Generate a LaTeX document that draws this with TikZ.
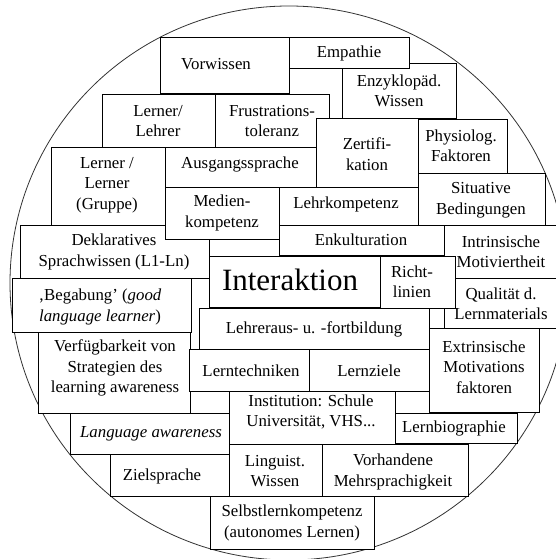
\documentclass[tikz,border=0pt]{standalone}
\usepackage{fontspec}
\setmainfont{Liberation Serif}
\tikzset{
  boxline/.style={draw=black, line width=0.9pt, fill=white},
  circ/.style={draw=black!80, line width=0.8pt},
  txt/.style={inner sep=0pt, align=center, font=\fontsize{16.8}{20.5}\selectfont},
  bigtxt/.style={inner sep=0pt, align=center, font=\fontsize{31}{34}\selectfont}
}
\begin{document}
\begin{tikzpicture}[x=1pt,y=-1pt]
\clip (0,0) rectangle (556,559);
\fill[white] (0,0) rectangle (556,559);
\draw[circ] (289,283) ellipse [x radius=279pt, y radius=277pt];
% boxes, back to front
\draw[boxline] (342,63) rectangle (456,118);
\draw[boxline] (289,37) rectangle (409,68);
\draw[boxline] (160,37) rectangle (289,93);
\draw[boxline] (102,94) rectangle (215,147);
\draw[boxline] (215,94) rectangle (329,147);
\draw[boxline] (316,118) rectangle (418,187);
\draw[boxline] (418,119) rectangle (507,173);
\draw[boxline] (51,147) rectangle (165,225);
\draw[boxline] (165,147) rectangle (316,187);
\draw[boxline] (418,173) rectangle (545,225);
\draw[boxline] (279,187) rectangle (418,225);
\draw[boxline] (20,225) rectangle (209,278);
\draw[boxline] (209,230) rectangle (279,260);
\draw[boxline] (165,187) rectangle (279,239);
\draw[boxline] (279,225) rectangle (444,255);
\draw[boxline] (444,225) rectangle (570,278);
\draw[boxline] (444,278) rectangle (570,328);
\draw[boxline] (209,256) rectangle (380,307);
\draw[boxline] (380,256) rectangle (455,308);
\draw[boxline] (12,278) rectangle (191,332);
\draw[boxline] (199,308) rectangle (429,349.5);
\draw[boxline] (429,328) rectangle (539,412);
\draw[boxline] (38,332) rectangle (190,413);
\draw[boxline] (189,349.5) rectangle (309,391);
\draw[boxline] (309,349.5) rectangle (429,391);
\draw[boxline] (229,391) rectangle (395,444);
\draw[boxline] (395,413) rectangle (517,443);
\draw[boxline] (70,413) rectangle (229,454);
\draw[boxline] (110,454) rectangle (240,496);
\draw[boxline] (229,444) rectangle (322,496);
\draw[boxline] (322,444) rectangle (468,496);
\draw[boxline] (210,496) rectangle (374,549);
% texts
\node[txt] (vorwissen) at (216,64) {Vorwissen};
\node[txt] (empathie) at (349,53) {Empathie};
\node[txt] (enzyklo) at (399,91) {Enzyklopäd.\\Wissen};
\node[txt] (lernerlehrer) at (158,121) {Lerner/\\Lehrer};
\node[txt] (frustration) at (272,121) {Frustrations-\\toleranz};
\node[txt] (zertifikation) at (367,154) {Zertifi-\\kation};
\node[txt] (physiolog) at (461,146) {Physiolog.\\Faktoren};
\node[txt] (lernergruppe) at (107,185) {Lerner /\\Lerner\\(Gruppe)};
\node[txt] (ausgangs) at (240,164) {Ausgangssprache};
\node[txt] (situativ) at (481,200) {Situative\\Bedingungen};
\node[txt] (lehrkomp) at (346,204) {Lehrkompetenz};
\node[txt] (deklarativ) at (114,252) {Deklaratives\\Sprachwissen (L1-Ln)};
\node[txt] (medien) at (222,213) {Medien-\\kompetenz};
\node[txt] (enkultur) at (361,240) {Enkulturation};
\node[txt] (intrinsisch) at (501,252) {Intrinsische\\Motiviertheit};
\node[txt] (qualitaet) at (501,304) {Qualität d.\\Lernmaterials};
\node[bigtxt] (interaktion) at (290,280) {Interaktion};
\node[txt] (richtlinien) at (412,282) {Richt-\\linien};
\node[txt] (begabung) at (100,307) {‚Begabung’ (\textit{good}\\\textit{language learner})};
\node[txt] (lehreraus) at (314,329) {Lehreraus- u. -fortbildung};
\node[txt] (extrinsisch) at (484,367) {Extrinsische\\Motivations\\faktoren};
\node[txt] (verfuegbar) at (115,368) {Verfügbarkeit von\\Strategien des\\learning awareness};
\node[txt] (lerntechnik) at (251,371) {Lerntechniken};
\node[txt] (lernziele) at (369,371) {Lernziele};
\node[txt] (institution) at (311,412) {Institution: Schule\\Universität, VHS...};
\node[txt] (lernbio) at (454,428) {Lernbiographie};
\node[txt] (langaware) at (151,434) {\textit{Language awareness}};
\node[txt] (zielsprache) at (162,476) {Zielsprache};
\node[txt] (linguist) at (275,471) {Linguist.\\Wissen};
\node[txt] (vorhanden) at (393,472) {Vorhandene\\Mehrsprachigkeit};
\node[txt] (selbstlern) at (292,523) {Selbstlernkompetenz\\(autonomes Lernen)};
\end{tikzpicture}
\end{document}
